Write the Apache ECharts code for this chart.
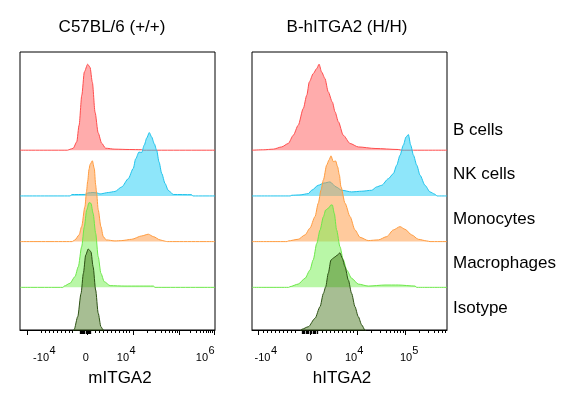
<!DOCTYPE html>
<html><head><meta charset="utf-8">
<script src="https://cdn.jsdelivr.net/npm/echarts@6/dist/echarts.min.js"></script>
<style>html,body{margin:0;padding:0;background:#fff}#c{width:566px;height:395px}</style>
</head><body><div id="c"></div>
<script>
// ---- DATA (x: display channel 0-1000 on biexponential scale, y: % of mode) ----
const panelTitles = ['C57BL/6 (+/+)', 'B-hITGA2 (H/H)'];
const axisNames = ['mITGA2', 'hITGA2'];
const populations = ['B cells', 'NK cells', 'Monocytes', 'Macrophages', 'Isotype'];

// panel 1 (mouse)
const bCells1 = [[0,0],[243,0],[256,1],[273,2.3],[291,9.7],[303,29],[317,64],[330,91],[347,100],[359,96.5],[371,79],[385,44],[401,20],[419,8],[439,2.3],[487,1.2],[560,0.8],[624,0.6],[630,0],[1000,0]];
const nkCells1 = [[0,0],[258,0],[265,1.6],[333,1.7],[349,3.5],[374,4],[395,3.5],[410,2.3],[453,4],[487,5.2],[522,10.5],[555,20],[581,32],[593,43],[610,51],[624,50.5],[637,59],[650,67.4],[663,73.7],[675,68.6],[689,60.5],[701,53],[713,39.5],[727,26],[744,14.4],[760,6.6],[786,1.7],[880,1.5],[886,0],[1000,0]];
const mono1 = [[0,0],[268,0],[273,0.8],[282,2],[303,7.8],[316,17.4],[333,40.7],[341,58],[347,70],[354,84],[359,89.5],[371,94],[381,85],[388,66],[393,56],[401,37],[415,17.4],[427,5.8],[442,2],[487,0.8],[522,1.2],[573,2.7],[624,6.6],[658,8.6],[684,5.8],[718,2],[747,0.3],[755,0],[1000,0]];
const macro1 = [[0,0],[220,0],[227,1.5],[256,4.7],[282,12.4],[299,24],[316,47],[330,70.6],[342,90],[354,98.5],[364,97.7],[375,86],[388,62.8],[401,35.7],[415,16.3],[432,6.6],[462,2],[538,1.5],[684,1.5],[692,0],[1000,0]];
const iso1 = [[0,0],[267,0],[278,4.3],[296,19],[313,46],[325,69.4],[337,90.7],[350,97.7],[364,94.5],[375,77],[388,50],[401,23],[415,7.3],[427,3.5],[441,0],[1000,0]];

// panel 2 (humanized)
const bCells2 = [[0,0],[60,0.5],[109,1.2],[152,3.8],[186,7.8],[212,17.4],[237,29],[263,48.5],[281,64],[294,79.4],[314,89],[332,95],[344,100],[357,91],[374,83.4],[391,67.8],[412,56],[426,44.5],[443,33],[468,17.4],[503,7.8],[545,3.8],[631,2],[750,0.8],[768,0],[1000,0]];
const nkCells2 = [[0,0],[196,0],[204,0.8],[246,1.2],[289,2.7],[306,6.6],[340,12.4],[369,15],[400,16.3],[431,10.5],[460,6.6],[511,4.7],[563,5.5],[614,6.6],[639,10.5],[665,12.4],[699,20],[725,26],[742,35.7],[759,47.3],[776,59],[790,68.6],[802,71.4],[814,59],[828,47.3],[845,35.7],[862,24],[887,12.4],[913,4.7],[938,2],[949,0],[1000,0]];
const mono2 = [[0,0],[180,0],[186,0.8],[237,2.7],[272,7.8],[297,15.6],[323,29],[340,44.7],[354,60],[366,71.7],[383,89],[395,95],[405,99.7],[417,93],[429,93.8],[439,87],[448,77.6],[456,64],[477,44.7],[503,29],[528,13.6],[554,5],[596,1.2],[648,2],[691,5.8],[725,13.6],[759,17.4],[785,14.3],[819,7.8],[853,2.7],[896,0.8],[913,0],[1000,0]];
const macro2 = [[0,0],[188,0],[195,0.8],[237,3.8],[272,10.5],[297,20],[314,32],[332,51],[349,66.7],[366,82],[378,90],[391,91.9],[405,95.8],[412,95.8],[422,86],[434,66.7],[451,47.3],[468,32],[486,20],[511,10.5],[545,3.8],[596,1.5],[682,2.7],[750,2.7],[836,1.5],[845,0],[1000,0]];
const iso2 = [[0,0],[241,0],[255,4.3],[289,7.3],[323,17],[349,30.6],[366,46],[378,53.8],[391,69.4],[405,84.9],[422,88],[439,90.7],[451,93.4],[463,86.9],[477,77],[494,61.6],[511,46],[528,30.6],[545,19],[563,9.3],[579,3.5],[595,0],[1000,0]];

// vertical offsets of each histogram (same units as y)
const offsets = [212.6, 159.4, 106.3, 53.1, 0];

// axis ticks (channel positions) and tick labels (base text + exponent)
const majorTicks1 = [37, 347, 581, 817, 995];
const baseLabelPos1 = [108, 338, 528, 933];
const baseLabelText1 = ['-10', '0', '10', '10'];
const expLabelPos1 = [167, 577, 982];
const expLabelText1 = ['4', '4', '6'];
const minorTicks1 = [108,128,149,169,190,210,231,251,267, 385,405,426,446,467,487,508,528,544,559, 652,694,723,746,765,780,794,806, 871,902,924,941,956,967,978,987];
const zeroTicks1 = [308,314,320,326,332,338,344,350,356,362];

const majorTicks2 = [32, 297, 540, 785];
const baseLabelPos2 = [54, 292, 508, 790];
const baseLabelText2 = ['-10', '0', '10', '10'];
const expLabelPos2 = [113, 556, 838];
const expLabelText2 = ['4', '4', '5'];
const minorTicks2 = [56,77,97,118,138,159,179,200,220, 359,379,400,421,441,462,482,503,518, 614,657,688,711,731,747,761,774, 859,902,933,956,976,992];
const zeroTicks2 = [256,263,270,277,284,291,298,305,312,319,326,333];

// ---- STYLE ----
const FONT = '"Liberation Sans", Arial, sans-serif';
const lineColors = ['#ff4d4d', '#1fc3ec', '#ff9c3f', '#6de84a', '#2c5014'];
const fillColors = ['rgba(255,90,90,0.5)', 'rgba(30,205,245,0.5)', 'rgba(255,150,60,0.5)', 'rgba(115,240,80,0.5)', 'rgba(60,110,15,0.45)'];

const panels = [
  {data: [bCells1, nkCells1, mono1, macro1, iso1], major: majorTicks1, minor: minorTicks1, zero: zeroTicks1,
   bpos: baseLabelPos1, btxt: baseLabelText1, epos: expLabelPos1, etxt: expLabelText1, left: 20},
  {data: [bCells2, nkCells2, mono2, macro2, iso2], major: majorTicks2, minor: minorTicks2, zero: zeroTicks2,
   bpos: baseLabelPos2, btxt: baseLabelText2, epos: expLabelPos2, etxt: expLabelText2, left: 252}
];

const grids = [], xAxes = [], yAxes = [], series = [];
const lblStyle = {fontSize: 11, fontFamily: FONT, color: '#000'};
panels.forEach((p, g) => {
  grids.push({left: p.left, top: 52, width: 195, height: 278, show: true, borderColor: '#000', borderWidth: 1, containLabel: false});
  const base = {type: 'value', gridIndex: g, min: 0, max: 1000, position: 'bottom', splitLine: {show: false}};
  xAxes.push(Object.assign({}, base, {
    axisLine: {show: true, onZero: false, lineStyle: {color: '#000', width: 1}},
    axisTick: {show: true, customValues: p.major, length: 5, lineStyle: {color: '#000', width: 1}},
    axisLabel: Object.assign({show: true, customValues: p.bpos, margin: 22,
      formatter: (v) => { const i = p.bpos.indexOf(v); return i < 0 ? '' : p.btxt[i]; }}, lblStyle)
  }));
  xAxes.push(Object.assign({}, base, {
    axisLine: {show: false, onZero: false},
    axisTick: {show: true, customValues: p.minor, length: 3, lineStyle: {color: '#000', width: 1}},
    axisLabel: Object.assign({show: true, customValues: p.epos, margin: 15,
      formatter: (v) => { const i = p.epos.indexOf(v); return i < 0 ? '' : p.etxt[i]; }}, lblStyle)
  }));
  xAxes.push(Object.assign({}, base, {
    axisLine: {show: false, onZero: false},
    axisTick: {show: true, customValues: p.zero, length: 4, lineStyle: {color: '#000', width: 1.3}},
    axisLabel: {show: false}
  }));
  yAxes.push({type: 'value', gridIndex: g, min: 3.5, max: 326.8, show: false});
  p.data.forEach((arr, k) => {
    const off = offsets[k];
    series.push({
      type: 'line', xAxisIndex: g * 3, yAxisIndex: g,
      data: arr.map(d => [d[0], d[1] + off]),
      symbol: 'none', showSymbol: false, smooth: 0.25, smoothMonotone: 'x',
      lineStyle: {color: lineColors[k], width: 1},
      areaStyle: {color: fillColors[k], origin: off, opacity: 1},
      z: 2 + k, silent: true, animation: false
    });
  });
});

const graphic = [];
const titleX = [112, 347];
panelTitles.forEach((t, i) => graphic.push({type: 'text', x: titleX[i], y: 27,
  style: {text: t, fill: '#000', font: '17px ' + FONT, textAlign: 'center', textVerticalAlign: 'middle'}}));
const nameX = [120, 342];
axisNames.forEach((t, i) => graphic.push({type: 'text', x: nameX[i], y: 378,
  style: {text: t, fill: '#000', font: '17px ' + FONT, textAlign: 'center', textVerticalAlign: 'middle'}}));
const popY = [130, 174, 219, 263, 308];
populations.forEach((t, i) => graphic.push({type: 'text', x: 453, y: popY[i],
  style: {text: t, fill: '#000', font: '17px ' + FONT, textAlign: 'left', textVerticalAlign: 'middle'}}));

const chart = echarts.init(document.getElementById('c'), null, {renderer: 'canvas'});
chart.setOption({
  animation: false,
  backgroundColor: '#fff',
  grid: grids, xAxis: xAxes, yAxis: yAxes, series: series, graphic: graphic
});
</script>
</body></html>
